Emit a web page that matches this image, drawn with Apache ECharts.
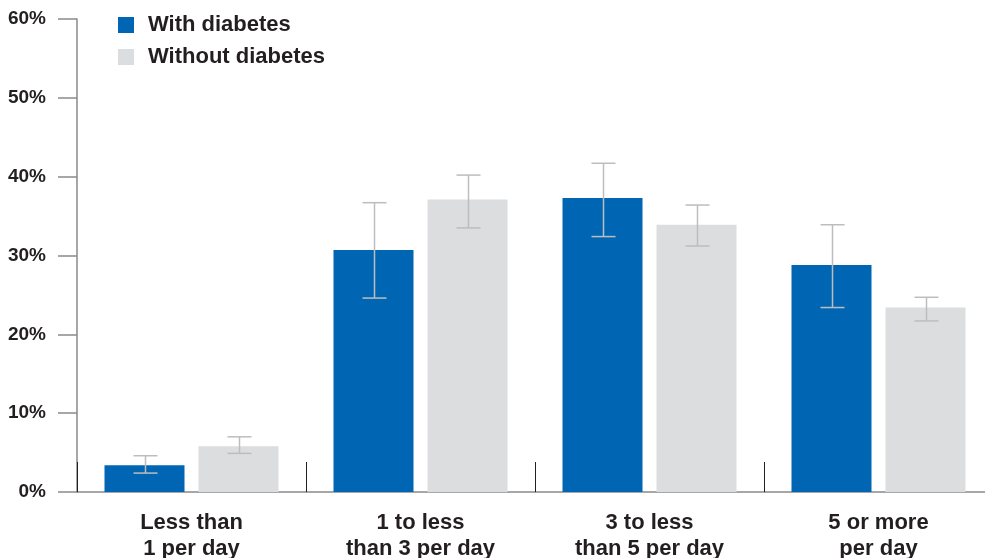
<!DOCTYPE html>
<html>
<head>
<meta charset="utf-8">
<script src="https://cdn.jsdelivr.net/npm/echarts@6/dist/echarts.min.js"></script>
<style>
  html, body { margin: 0; padding: 0; background: #fff; overflow: hidden; }
  #chart { width: 985px; height: 558px; }
</style>
</head>
<body>
<div id="chart"></div>
<script>
// categories and values
const categories = ['Less than\n1 per day', '1 to less\nthan 3 per day', '3 to less\nthan 5 per day', '5 or more\nper day'];
const withDiabetes = [3.4, 30.7, 37.3, 28.8];
const withLow = [2.4, 24.6, 32.4, 23.4];
const withHigh = [4.6, 36.7, 41.7, 33.9];
const withoutDiabetes = [5.8, 37.1, 33.9, 23.4];
const withoutLow = [4.9, 33.5, 31.2, 21.7];
const withoutHigh = [7.0, 40.2, 36.4, 24.7];
const yTicks = [0, 10, 20, 30, 40, 50, 60];

const FONT = '"Liberation Sans", Arial, sans-serif';
const BLUE = '#0066b3';
const GREY = '#dcdddf';
const BAR_W = 80;
const SHIFT = 47; // half of bar width + half gap

const chart = echarts.init(document.getElementById('chart'));

function errorBars(low, high, dir) {
  return {
    type: 'custom',
    z: 5,
    silent: true,
    data: low.map((l, i) => [i, l, high[i]]),
    renderItem: function (params, api) {
      const lo = api.coord([api.value(0), api.value(1)]);
      const hi = api.coord([api.value(0), api.value(2)]);
      const x = Math.round(lo[0] + dir * SHIFT) + 0.5;
      const cap = 12;
      const style = { stroke: '#bdbdbd', lineWidth: 1.5 };
      return {
        type: 'group',
        children: [
          { type: 'line', shape: { x1: x, y1: lo[1], x2: x, y2: hi[1] }, style: style },
          { type: 'line', shape: { x1: x - cap, y1: lo[1], x2: x + cap, y2: lo[1] }, style: style },
          { type: 'line', shape: { x1: x - cap, y1: hi[1], x2: x + cap, y2: hi[1] }, style: style }
        ]
      };
    }
  };
}

chart.setOption({
  animation: false,
  grid: { left: 77, top: 19, right: -8, bottom: 66, containLabel: false, outerBoundsMode: 'none' },
  legend: {
    orient: 'vertical',
    left: 113,
    top: 9,
    itemWidth: 16,
    itemHeight: 16,
    itemGap: 10,
    icon: 'rect',
    data: ['With diabetes', 'Without diabetes'],
    textStyle: { fontFamily: FONT, fontWeight: 'bold', fontSize: 22, lineHeight: 22, color: '#231f20', padding: [0, 0, 0, 9] }
  },
  xAxis: {
    type: 'category',
    data: categories,
    axisLine: { lineStyle: { color: '#8a8a8a', width: 1.5 } },
    axisTick: { show: true, inside: true, length: 30, interval: 0, lineStyle: { color: '#231f20', width: 1 } },
    axisLabel: {
      interval: 0,
      margin: 18,
      fontFamily: FONT,
      fontWeight: 'bold',
      fontSize: 22,
      lineHeight: 26,
      color: '#231f20'
    }
  },
  yAxis: {
    type: 'value',
    min: yTicks[0],
    max: yTicks[yTicks.length - 1],
    interval: 10,
    axisLine: { show: true, lineStyle: { color: '#8a8a8a', width: 1.5 } },
    axisTick: { show: true, length: 19, lineStyle: { color: '#8a8a8a', width: 1.5 } },
    splitLine: { show: false },
    axisLabel: {
      margin: 31,
      fontFamily: FONT,
      fontWeight: 'bold',
      fontSize: 19,
      color: '#231f20',
      formatter: '{value}%'
    }
  },
  series: [
    { name: 'With diabetes', type: 'bar', data: withDiabetes, barWidth: BAR_W, barGap: '17.5%', itemStyle: { color: BLUE } },
    { name: 'Without diabetes', type: 'bar', data: withoutDiabetes, barWidth: BAR_W, itemStyle: { color: GREY } },
    errorBars(withLow, withHigh, -1),
    errorBars(withoutLow, withoutHigh, 1)
  ]
});
</script>
</body>
</html>
